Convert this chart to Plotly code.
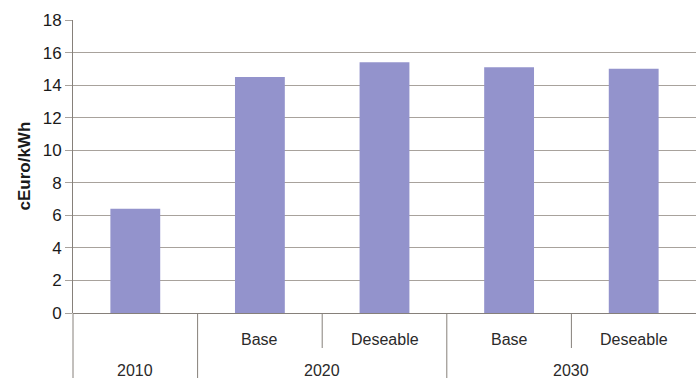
import plotly.graph_objects as go

# Data
groups = ["2010", "2020", "2020", "2030", "2030"]
scenarios = ["", "Base", "Deseable", "Base", "Deseable"]
values = [6.4, 14.5, 15.4, 15.1, 15.0]
y_ticks = [0, 2, 4, 6, 8, 10, 12, 14, 16, 18]
group_labels = ["2010", "2020", "2030"]
group_centers = [0, 1.5, 3.5]

BAR = "#9393cc"
GRID = "#a8a29c"
DIV = "#86807a"
FONT = "Liberation Sans, Arial"
n = len(values)
xs = list(range(n))

fig = go.Figure()
fig.add_trace(go.Bar(x=xs, y=values, width=0.4, marker=dict(color=BAR, line=dict(width=0)),
                     hoverinfo="y"))

H = 293.0  # plot height in px
def pf(px):
    return -px / H

def xpaper(v):
    return (v + 0.5) / n

shapes = []
shapes.append(dict(type="line", xref="paper", yref="paper", x0=0, x1=0, y0=0, y1=pf(70),
                   line=dict(color=DIV, width=1)))
for v in [0.5, 2.5]:
    shapes.append(dict(type="line", xref="paper", yref="paper", x0=xpaper(v), x1=xpaper(v),
                       y0=0, y1=pf(70), line=dict(color=DIV, width=1)))
for v in [1.5, 3.5]:
    shapes.append(dict(type="line", xref="paper", yref="paper", x0=xpaper(v), x1=xpaper(v),
                       y0=0, y1=pf(35), line=dict(color=DIV, width=1)))

annotations = []
for i, s in enumerate(scenarios):
    if s:
        annotations.append(dict(x=i, xref="x", y=0, yref="paper", yshift=-26, text=s,
                                showarrow=False, yanchor="middle",
                                font=dict(family=FONT, size=16, color="#2a2a2a")))
for lab, c in zip(group_labels, group_centers):
    annotations.append(dict(x=c, xref="x", y=0, yref="paper", yshift=-57, text=lab,
                            showarrow=False, yanchor="middle",
                            font=dict(family=FONT, size=16, color="#2a2a2a")))
annotations.append(dict(x=0, xref="paper", xshift=-49, y=0.5, yref="paper", text="<b>cEuro/kWh</b>",
                        textangle=-90, showarrow=False, xanchor="center",
                        font=dict(family=FONT, size=17, color="#1a1a1a")))

fig.update_layout(
    width=696, height=378,
    margin=dict(l=73, r=0, t=20, b=65),
    paper_bgcolor="white", plot_bgcolor="white",
    showlegend=False,
    shapes=shapes,
    annotations=annotations,
    xaxis=dict(range=[-0.5, n - 0.5], showticklabels=False, showgrid=False, zeroline=False,
               showline=False, ticks="", fixedrange=True),
    yaxis=dict(range=[0, 18], tickvals=y_ticks, showgrid=True, gridcolor=GRID, gridwidth=1,
               zeroline=True, zerolinecolor=DIV, zerolinewidth=1,
               showline=True, linecolor=DIV, linewidth=1,
               ticks="outside", ticklen=7, tickcolor=GRID,
               tickfont=dict(family=FONT, size=17, color="#1a1a1a")),
)

fig.write_html("out.html", config={"displayModeBar": False},
               post_script="document.body.style.margin='0';document.body.style.overflow='hidden';")
